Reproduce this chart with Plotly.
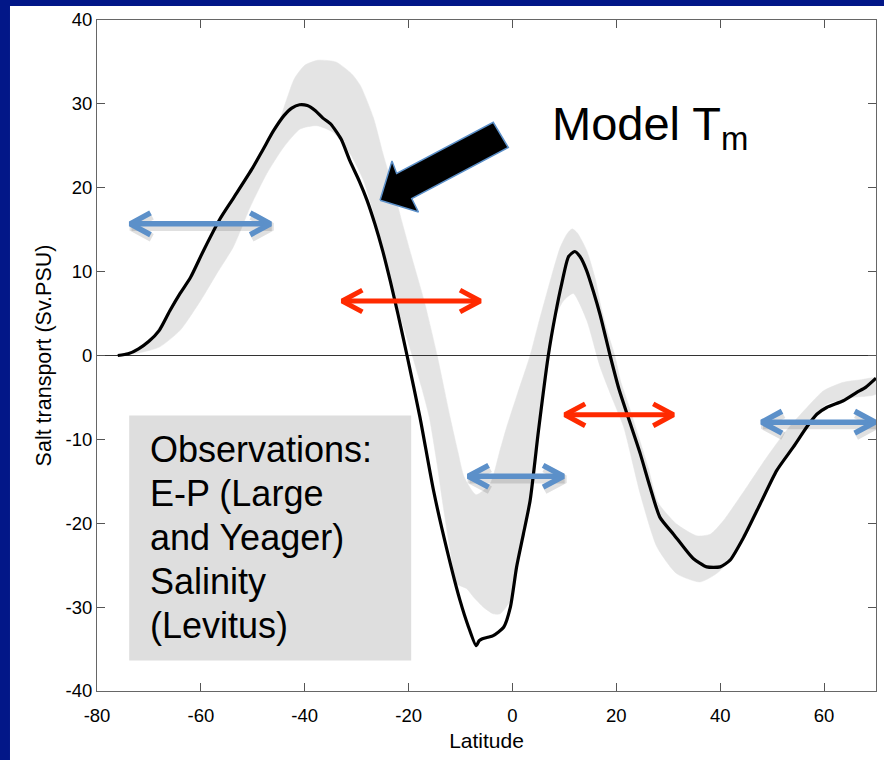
import plotly.graph_objects as go

# ---- Data ----
model_lat = [-76, -74, -72, -70, -68, -66, -64, -62, -59.5, -56.3, -53.7, -50, -48, -46, -44, -42.5, -41,
             -39.5, -38, -36.5, -35, -33, -31.3, -29.5, -28, -26.5, -25, -23.5, -22, -20.3, -17.8, -15.2,
             -12.6, -10.1, -8.5, -7, -6.4, -5.9, -4.8, -3.7, -1.7, -0.4, 0.8, 2.1, 3.4, 5.0, 6.9, 8.3, 9.5,
             10.8, 12.0, 13.0, 14.3, 15.6, 16.9, 18.8, 20.5, 22.3, 24.6, 26.5, 28.4, 31, 32.9, 34.8, 37.4,
             40, 41.9, 44.5, 47.7, 50.9, 54.1, 56.7, 58.6, 60.5, 63.7, 66.3, 68, 70]
model_tm = [0, 0.2, 0.8, 1.7, 3.0, 5.3, 7.4, 9.3, 12.5, 16.3, 18.8, 22.4, 24.6, 26.8, 28.6, 29.5, 29.9,
            29.8, 29.2, 28.3, 27.6, 25.8, 23.2, 20.8, 18.5, 15.7, 12.5, 8.8, 4.8, 0, -7.4, -16.1,
            -23.2, -29.2, -32.3, -34.6, -34.0, -33.8, -33.6, -33.4, -32.4, -30, -25.2, -21.3, -17.3, -9.0, 0,
            5.0, 8.6, 11.8, 12.4, 11.8, 10.1, 7.6, 4.8, 0, -4.0, -7.4, -11.7, -15.7, -19.3, -21.3, -22.8,
            -24.2, -25.2, -25.2, -24.4, -21.7, -17.7, -13.7, -10.9, -8.5, -7.0, -6.2, -5.4, -4.4, -3.8, -2.7]

obs_upper_lat = [-76, -72, -70, -66, -62, -59.5, -56.3, -53.7, -50, -47, -45, -43.5, -42, -40, -37.5, -34,
                 -31, -29.3, -26.8, -24.9, -22.9, -21, -19.3, -17, -14.5, -12, -10.5, -9.3, -7, -4.3,
                 -2.4, -1.1, 1, 3.4, 5, 6.6, 8, 9.2, 10.5, 11.5, 12.5, 14.3, 16, 16.9, 18.2, 19.7, 20.8,
                 22.3, 24.2, 26.2, 28, 31.6, 35.5, 38.1, 40.6, 45.1, 49, 52.8, 56.7, 59.9, 63.7, 67, 70]
obs_upper = [0, 0.8, 1.7, 5.3, 9.3, 12.5, 16.3, 18.8, 22.4, 25.6, 27.8, 30.5, 33, 34.6, 35.2, 35.0,
             33.6, 32.2, 28.4, 24.0, 19.7, 15.3, 11.5, 6.5, 0, -7.4, -11.5, -14.5, -16.6, -15.3,
             -11.3, -8.5, -4.5, 0, 3.8, 7.4, 10.5, 12.9, 14.5, 15.1, 14.6, 12.5, 9, 6.2, 3.0, 0, -3,
             -5.8, -9.5, -13.5, -17.5, -20.1, -21.5, -21.3, -19.7, -15.7, -12.1, -8.9, -6.2, -4.2, -3.2, -2.9, -2.7]

obs_lower_lat = [-76, -72, -68, -64, -60, -57, -53.7, -50.5, -47.3, -44.1, -40.9, -37.7, -34.5, -31.2, -28.7,
                 -26.7, -24.8, -22, -19.3, -17.5, -16, -14.5, -13.5, -12, -10.7, -8.8, -7.5, -5.6, -3.7,
                 -2.4, -0.4, 0.8, 2.1, 3.6, 5.2, 7.0, 8.4, 9.8, 11.7, 14.3, 16.9, 19.4, 21.4, 24.6, 27.8,
                 31.6, 36.1, 39.3, 41.9, 44.5, 47.7, 50.9, 54.1, 56.7, 60.5, 65.6, 70]
obs_lower = [0, 0.3, 1.0, 3.0, 6.6, 9.7, 13.0, 17.7, 21.7, 24.8, 27.0, 27.4, 26.6, 24.0, 20.9,
             16.9, 12.1, 5.5, 0, -3.8, -7.4, -13, -17.3, -23.2, -27.2, -27.8, -28.8, -30, -30.8,
             -30.8, -29.2, -25.5, -21.5, -17.3, -9.0, -0.5, 4.8, 6.5, 7.4, 4.2, -1.4, -5.4, -8.5, -16.5, -22.8,
             -26, -27, -26, -24.4, -21.7, -17.7, -13.7, -10.9, -8.3, -5.8, -5.0, -4.6]

x_ticks = [-80, -60, -40, -20, 0, 20, 40, 60]
x_tick_text = ["-80", "-60", "-40", "-20", "0", "20", "40", "60"]
y_ticks = [-40, -30, -20, -10, 0, 10, 20, 30, 40]
y_tick_text = ["-40", "-30", "-20", "-10", "0", "10", "20", "30", "40"]

# double-headed range arrows: (lat_start, lat_end, value)
blue_ranges = [(-73.6, -46.6, 15.7), (-8.5, 9.8, -14.4), (48.0, 69.8, -7.95)]
red_ranges = [(-32.8, -6.2, 6.5), (10.1, 31.0, -7.07)]

obs_lines = ["Observations:", "E-P (Large", "and Yeager)", "Salinity", "(Levitus)"]

FONT = "Liberation Sans, Arial, Helvetica, sans-serif"
BLUE = "#5c90c9"
RED = "#ff2a00"
BAND = "#e4e4e4"

fig = go.Figure()

# observation band
fig.add_trace(go.Scatter(
    x=obs_upper_lat + obs_lower_lat[::-1],
    y=obs_upper + obs_lower[::-1],
    fill="toself", fillcolor=BAND, line=dict(color=BAND, width=0.5, shape="spline", smoothing=0.6),
    mode="lines", hoverinfo="skip", showlegend=False))

# zero line
fig.add_trace(go.Scatter(x=[-80, 70], y=[0, 0], mode="lines",
                         line=dict(color="#333333", width=1), showlegend=False, hoverinfo="skip"))

# model curve
fig.add_trace(go.Scatter(x=model_lat, y=model_tm, mode="lines",
                         line=dict(color="black", width=3.2, shape="spline", smoothing=0.6),
                         showlegend=False))

# double-headed arrows
HX = 3.9   # head length (lat units)
HY = 1.3   # head half-height (value units)
def add_double_arrow(x1, x2, y, color, width, shadow):
    xs = [x1 + HX, x1, x1 + HX, None, x1, x2, None, x2 - HX, x2, x2 - HX]
    ys = [y + HY, y, y - HY, None, y, y, None, y + HY, y, y - HY]
    if shadow:
        fig.add_trace(go.Scatter(x=[v + 0.25 if v is not None else None for v in xs],
                                 y=[v - 0.35 if v is not None else None for v in ys],
                                 mode="lines", line=dict(color="rgba(0,0,0,0.12)", width=width + 3),
                                 showlegend=False, hoverinfo="skip"))
    fig.add_trace(go.Scatter(x=xs, y=ys, mode="lines", line=dict(color=color, width=width),
                             showlegend=False, hoverinfo="skip"))

for a, b, v in blue_ranges:
    add_double_arrow(a, b, v, BLUE, 5.5, True)
for a, b, v in red_ranges:
    add_double_arrow(a, b, v, RED, 5, False)

# big black arrow pointing at the model curve
arrow_x = [-25.5, -23.2, -22.3, -3.7, -0.8, -19.4, -18.1, -25.5]
arrow_y = [18.5, 23.2, 21.7, 27.8, 24.8, 18.7, 17.1, 18.5]
fig.add_trace(go.Scatter(x=arrow_x, y=arrow_y, fill="toself", fillcolor="black",
                         line=dict(color=BLUE, width=1.5), mode="lines",
                         showlegend=False, hoverinfo="skip"))

shapes = [
    # white slide area
    dict(type="rect", xref="paper", yref="paper", x0=-0.1117, x1=1.02, y0=-0.11, y1=1.0209,
         fillcolor="white", line=dict(width=0), layer="below"),
    # observation text box
    dict(type="rect", xref="x", yref="y", x0=-73.8, x1=-19.5, y0=-36.35, y1=-7.15,
         fillcolor="#dedede", line=dict(width=0), layer="above"),
]

annotations = [
    dict(x=7.3, y=27.3, xref="x", yref="y", text="Model T<sub>m</sub>", showarrow=False,
         xanchor="left", yanchor="middle", font=dict(family=FONT, size=47, color="black")),
]
obs_y = [-11.25, -16.5, -21.74, -26.98, -32.23]
for t, yy in zip(obs_lines, obs_y):
    annotations.append(dict(x=-70.1, y=yy, xref="x", yref="y", text=t, showarrow=False,
                            xanchor="left", yanchor="middle",
                            font=dict(family=FONT, size=36, color="black")))

fig.update_layout(
    width=884, height=760,
    margin=dict(l=97, r=8, t=20, b=69),
    paper_bgcolor="#021788",
    plot_bgcolor="white",
    shapes=shapes,
    annotations=annotations,
    font=dict(family=FONT, color="black"),
)
fig.update_xaxes(range=[-80, 70], tickvals=x_ticks, ticktext=x_tick_text, ticks="inside", ticklen=8,
                 tickcolor="#555", showline=True, linecolor="#666", linewidth=1, mirror="ticks",
                 showgrid=False, zeroline=False, ticklabelstandoff=8,
                 tickfont=dict(size=18.5, family=FONT, color="black"),
                 title=dict(text="Latitude", font=dict(size=21, family=FONT, color="black"), standoff=8))
fig.update_yaxes(range=[-40, 40], tickvals=y_ticks, ticktext=y_tick_text, ticks="inside", ticklen=8,
                 tickcolor="#555", showline=True, linecolor="#666", linewidth=1, mirror="ticks",
                 showgrid=False, zeroline=False,
                 tickfont=dict(size=18.5, family=FONT, color="black"),
                 title=dict(text="Salt transport (Sv.PSU)", font=dict(size=21.5, family=FONT, color="black"),
                            standoff=8))

fig.write_html("out.html")
